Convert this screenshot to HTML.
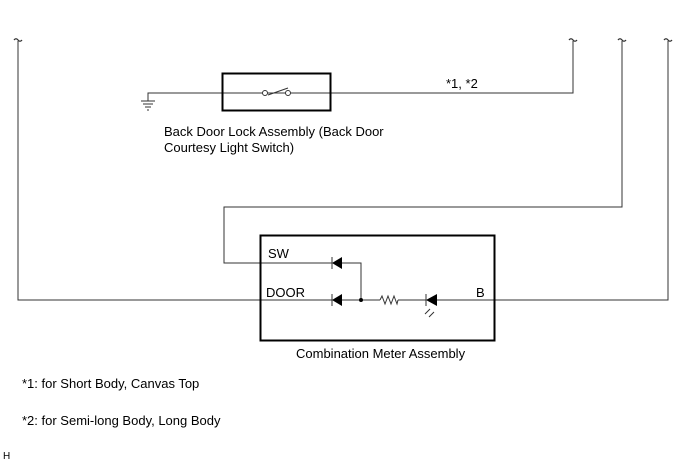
<!DOCTYPE html>
<html><head><style>
body{margin:0;background:#fff;width:688px;height:463px;overflow:hidden}
svg{display:block}
text{font-family:"Liberation Sans",sans-serif;font-size:13px;fill:#000}
</style></head><body>
<svg width="688" height="463" viewBox="0 0 688 463">
<g fill="none" stroke="#333" stroke-width="1">
<path d="M18 41V300H260"/>
<path d="M148 101V93H573V41"/>
<path d="M622 41V207H224V263H332"/>
<path d="M668 41V300H494"/>
<path d="M260 300H332 M342 263H361V300 M342 300H380 M398 300H426 M437 300H494"/>
<path d="M14 40q2-2.5 4 0t4 0 M569 40q2-2.5 4 0t4 0 M618 40q2-2.5 4 0t4 0 M664 40q2-2.5 4 0t4 0" stroke-width="1.3"/>
<path d="M141 101h14 M143 104h10 M145 107h6 M147 110h2"/>
<path d="M380 300l2-4 3 8 3-8 3 8 3-8 3 8 1-4"/>
<path d="M332 257v12 M332 294v12 M426 294v12"/>
<path d="M268 95l20-7"/>
<path d="M430 309l-5 5 M434 312l-5 5"/>
</g>
<rect x="222.5" y="73.5" width="108" height="37" fill="none" stroke="#000" stroke-width="2"/>
<rect x="260.5" y="235.5" width="234" height="105" fill="none" stroke="#000" stroke-width="2"/>
<circle cx="265" cy="93" r="2.5" fill="#fff" stroke="#333"/>
<circle cx="288" cy="93" r="2.5" fill="#fff" stroke="#333"/>
<path d="M332 263l10-6v12z M332 300l10-6v12z M426 300l11-6v12z" fill="#000"/>
<circle cx="361" cy="300" r="2" fill="#000"/>
<text x="446" y="88">*1, *2</text>
<text x="164" y="136">Back Door Lock Assembly (Back Door</text>
<text x="164" y="152">Courtesy Light Switch)</text>
<text x="268" y="258">SW</text>
<text x="266" y="297">DOOR</text>
<text x="476" y="297">B</text>
<text x="296" y="358">Combination Meter Assembly</text>
<text x="22" y="388">*1: for Short Body, Canvas Top</text>
<text x="22" y="425">*2: for Semi-long Body, Long Body</text>
<text x="3" y="459" style="font-size:10px">H</text>
</svg>
</body></html>
